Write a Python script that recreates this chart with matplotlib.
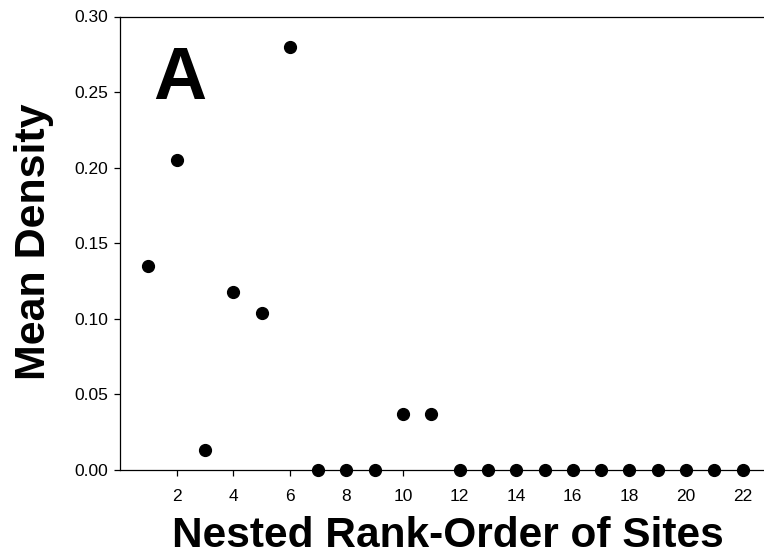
import matplotlib
matplotlib.use("Agg")
import matplotlib.pyplot as plt

plt.rcParams['font.family'] = ['Liberation Sans', 'DejaVu Sans']

sites = list(range(1, 23))
density = [0.135, 0.205, 0.013, 0.118, 0.104, 0.280, 0.0, 0.0, 0.0, 0.037, 0.037,
           0.0, 0.0, 0.0, 0.0, 0.0, 0.0, 0.0, 0.0, 0.0, 0.0, 0.0]
xticks = [2, 4, 6, 8, 10, 12, 14, 16, 18, 20, 22]
yticks = [0.00, 0.05, 0.10, 0.15, 0.20, 0.25, 0.30]
ytick_labels = ["0.00", "0.05", "0.10", "0.15", "0.20", "0.25", "0.30"]

fig = plt.figure(figsize=(7.64, 5.57), dpi=100)
W, H = 764, 557
ax_w_px = W - 120
ax_h_px = 470 - 16.5
ax = fig.add_axes([120 / W, 1 - 470 / H, ax_w_px / W, ax_h_px / H])

ax.plot(sites, density, 'o', color='black', markersize=8.5, clip_on=False, zorder=3)

ax.set_xlim(0, ax_w_px / 28.3)
ax.set_ylim(0, 0.30)
ax.set_xticks(xticks)
ax.set_xticklabels([str(t) for t in xticks])
ax.set_yticks(yticks)
ax.set_yticklabels(ytick_labels)

for s in ['left', 'top', 'bottom']:
    ax.spines[s].set_linewidth(0.9)
    ax.spines[s].set_color('black')
ax.spines['right'].set_visible(False)

ax.tick_params(axis='both', direction='out', length=4.5, width=0.9, labelsize=12.5, colors='black')
ax.tick_params(axis='x', pad=9)
ax.tick_params(axis='y', pad=4)

ax.set_xlabel('Nested Rank-Order of Sites', fontsize=30.5, fontweight='bold')
ax.xaxis.label.set_va('baseline')
ax.xaxis.set_label_coords((448 - 120) / ax_w_px, (470 - 547) / ax_h_px)

ax.set_ylabel('Mean Density', fontsize=31, fontweight='bold')
ax.yaxis.label.set_va('baseline')
ax.yaxis.set_label_coords((45 - 120) / ax_w_px, (470 - 242) / ax_h_px)

ax.text((153 - 120) / ax_w_px, (470 - 99) / ax_h_px, 'A', transform=ax.transAxes,
        fontsize=53, fontweight='bold', ha='left', va='baseline')

fig.savefig('out.png', dpi=100)
